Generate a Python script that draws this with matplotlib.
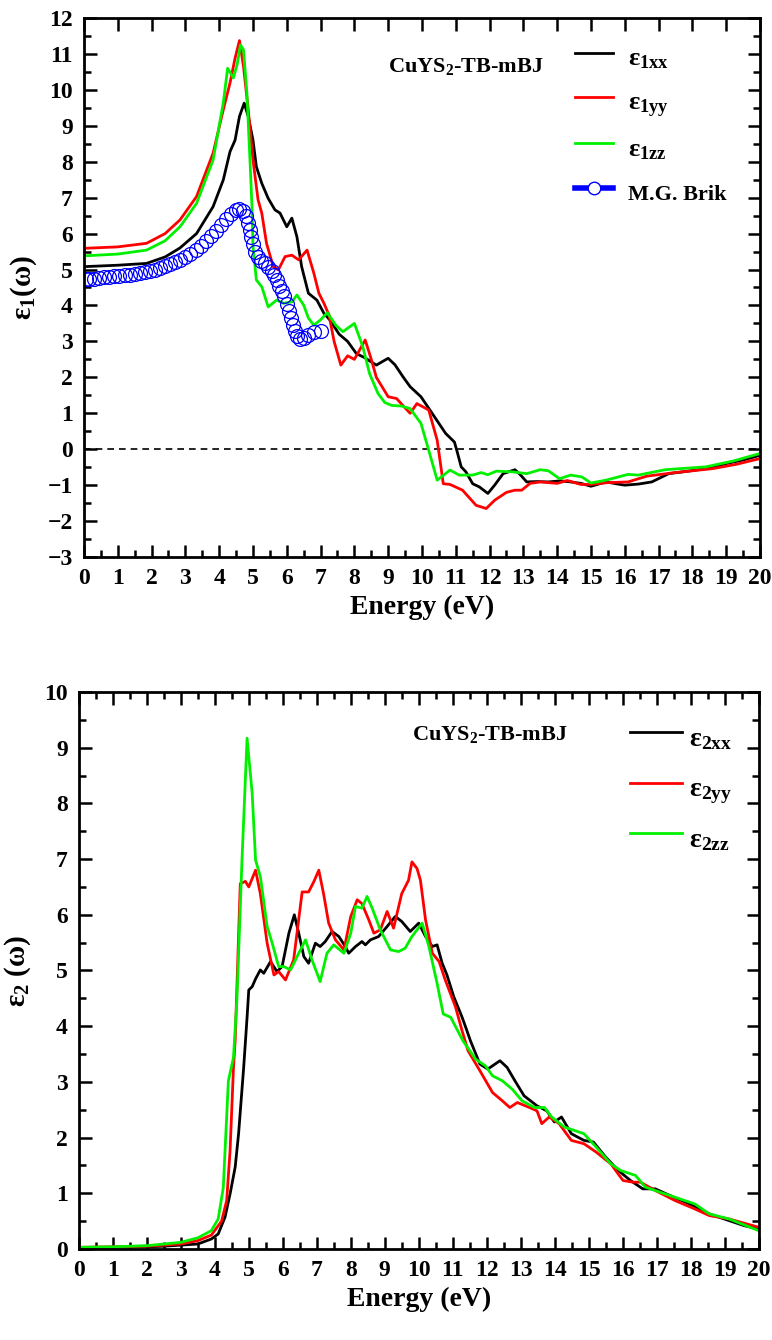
import matplotlib
matplotlib.use('Agg')
from matplotlib import pyplot as plt
from matplotlib.lines import Line2D
from matplotlib.ticker import MultipleLocator

plt.rcParams['font.family'] = 'Liberation Serif'
plt.rcParams['font.weight'] = 'bold'
plt.rcParams['mathtext.fontset'] = 'custom'
plt.rcParams['mathtext.rm'] = 'Liberation Serif:bold'
plt.rcParams['mathtext.it'] = 'Liberation Serif:bold'
plt.rcParams['mathtext.bf'] = 'Liberation Serif:bold'
plt.rcParams['mathtext.default'] = 'rm'

# ---- epsilon 1 (real part) ----
e1xx_E = [0, 1.0, 1.85, 2.4, 2.84, 3.33, 3.82, 4.12, 4.32, 4.47, 4.6, 4.74, 4.86, 5.0, 5.1, 5.26,
          5.45, 5.65, 5.8, 6.0, 6.15, 6.3, 6.44, 6.64, 6.89, 7.1, 7.27, 7.55, 7.8, 8.06, 8.3, 8.65,
          8.85, 9.0, 9.2, 9.45, 9.65, 9.97, 10.3, 10.7, 10.96, 11.05, 11.16, 11.3, 11.5, 11.7, 11.95,
          12.15, 12.4, 12.75, 12.9, 13.1, 13.4, 13.74, 14.1, 14.4, 14.7, 15.0, 15.45, 15.8, 16.0,
          16.4, 16.8, 17.3, 17.8, 18.4, 19.0, 19.5, 20.0]
e1xx = [5.08, 5.12, 5.17, 5.35, 5.6, 6.0, 6.75, 7.49, 8.28, 8.6, 9.26, 9.63, 9.26, 8.6, 7.86, 7.4,
        6.98, 6.66, 6.57, 6.19, 6.43, 5.91, 5.08, 4.34, 4.15, 3.78, 3.6, 3.2, 3.0, 2.66, 2.55, 2.34,
        2.45, 2.53, 2.35, 2.0, 1.74, 1.46, 1.0, 0.44, 0.2, -0.1, -0.49, -0.63, -0.96, -1.05, -1.23,
        -1.0, -0.68, -0.57, -0.7, -0.91, -0.9, -0.91, -0.88, -0.91, -0.95, -1.03, -0.91, -0.97, -1.0,
        -0.97, -0.91, -0.68, -0.62, -0.54, -0.4, -0.3, -0.17]

e1yy_E = [0, 1.0, 1.85, 2.4, 2.84, 3.33, 3.82, 4.12, 4.32, 4.47, 4.6, 4.72, 4.86, 5.0, 5.15, 5.26,
          5.4, 5.6, 5.75, 5.95, 6.15, 6.35, 6.6, 6.8, 6.95, 7.1, 7.25, 7.4, 7.6, 7.8, 8.0, 8.32, 8.5,
          8.65, 9.0, 9.25, 9.45, 9.65, 9.85, 10.2, 10.45, 10.63, 10.83, 11.2, 11.6, 11.9, 12.15, 12.5,
          12.75, 12.95, 13.2, 13.5, 14.0, 14.3, 14.7, 15.0, 15.5, 16.1, 16.65, 17.4, 18.6, 19.3, 20.0]
e1yy = [5.59, 5.63, 5.73, 6.0, 6.38, 7.03, 8.24, 9.44, 10.19, 10.88, 11.37, 10.65, 9.44, 8.05, 6.94,
        6.57, 5.73, 5.08, 4.99, 5.36, 5.4, 5.27, 5.54, 4.9, 4.34, 4.06, 3.73, 3.0, 2.34, 2.6, 2.5,
        3.04, 2.5, 2.0, 1.46, 1.41, 1.2, 1.0, 1.27, 1.09, 0.25, -0.96, -0.98, -1.14, -1.56, -1.65,
        -1.42, -1.2, -1.14, -1.14, -0.95, -0.91, -0.95, -0.87, -0.98, -0.98, -0.93, -0.91, -0.75,
        -0.66, -0.54, -0.42, -0.26]

e1zz_E = [0, 1.0, 1.85, 2.4, 2.84, 3.33, 3.82, 4.12, 4.25, 4.42, 4.53, 4.63, 4.72, 4.82, 4.92, 4.97,
          5.0, 5.1, 5.26, 5.45, 5.7, 5.9, 6.15, 6.3, 6.5, 6.64, 6.8, 7.0, 7.2, 7.45, 7.66, 7.85, 8.0,
          8.25, 8.45, 8.7, 8.9, 9.1, 9.4, 9.65, 9.97, 10.2, 10.45, 10.6, 10.83, 11.1, 11.5, 11.75,
          11.95, 12.2, 12.68, 13.1, 13.5, 13.74, 14.07, 14.4, 14.73, 15.0, 15.45, 16.1, 16.4, 17.2,
          18.4, 19.2, 20.0]
e1zz = [5.38, 5.43, 5.54, 5.8, 6.19, 6.84, 8.05, 9.63, 10.6, 10.33, 10.7, 11.25, 11.11, 9.9, 7.86,
        6.75, 5.64, 4.71, 4.52, 3.96, 4.15, 4.06, 4.1, 4.29, 4.01, 3.65, 3.45, 3.6, 3.8, 3.45, 3.27,
        3.4, 3.5, 2.85, 2.1, 1.55, 1.3, 1.22, 1.2, 1.13, 0.72, -0.03, -0.86, -0.75, -0.58, -0.72,
        -0.72, -0.65, -0.71, -0.61, -0.63, -0.68, -0.57, -0.6, -0.82, -0.72, -0.77, -0.94, -0.86,
        -0.7, -0.72, -0.57, -0.49, -0.33, -0.12]

brik_E = [0.05, 0.15, 0.3, 0.45, 0.6, 0.75, 0.9, 1.05, 1.2, 1.35, 1.5, 1.65, 1.8, 1.95, 2.1, 2.25,
          2.4, 2.55, 2.7, 2.85, 3.0, 3.15, 3.3, 3.45, 3.6, 3.75, 3.9, 4.05, 4.2, 4.35, 4.5, 4.6, 4.7,
          4.78, 4.84, 4.9, 4.95, 5.0, 5.05, 5.15, 5.25, 5.35, 5.45, 5.55, 5.62, 5.7, 5.78, 5.85, 5.92,
          6.0, 6.06, 6.12, 6.18, 6.24, 6.3, 6.38, 6.5, 6.62, 6.8, 7.0]
brik = [4.75, 4.73, 4.75, 4.76, 4.78, 4.79, 4.81, 4.83, 4.84, 4.86, 4.88, 4.9, 4.93, 4.96, 5.0, 5.04,
        5.09, 5.14, 5.2, 5.27, 5.35, 5.44, 5.54, 5.66, 5.79, 5.93, 6.08, 6.24, 6.4, 6.55, 6.65, 6.68,
        6.62, 6.5, 6.3, 6.1, 5.9, 5.7, 5.5, 5.35, 5.25, 5.18, 5.08, 4.97, 4.85, 4.7, 4.55, 4.4, 4.25,
        4.05, 3.85, 3.65, 3.45, 3.28, 3.15, 3.08, 3.1, 3.18, 3.25, 3.28]

# ---- epsilon 2 (imaginary part) ----
e2xx_E = [0, 1.0, 2.0, 2.5, 3.0, 3.5, 3.9, 4.1, 4.3, 4.45, 4.6, 4.7, 4.85, 4.95, 5.0, 5.1, 5.2, 5.34,
          5.44, 5.64, 5.83, 5.98, 6.18, 6.34, 6.47, 6.62, 6.76, 6.96, 7.1, 7.25, 7.45, 7.65, 7.84,
          7.94, 8.14, 8.33, 8.43, 8.58, 8.82, 9.07, 9.31, 9.5, 9.75, 10.0, 10.2, 10.4, 10.54, 10.69,
          10.83, 11.03, 11.27, 11.4, 11.52, 11.8, 12.03, 12.39, 12.6, 12.83, 13.1, 13.48, 13.77,
          13.99, 14.2, 14.49, 14.86, 15.14, 15.5, 15.87, 16.23, 16.59, 16.96, 17.39, 17.97, 18.55,
          19.13, 19.57, 20.0]
e2xx = [0.02, 0.03, 0.04, 0.05, 0.07, 0.09, 0.18, 0.27, 0.57, 0.99, 1.47, 2.07, 3.26, 4.16, 4.65,
        4.71, 4.85, 5.01, 4.95, 5.16, 4.98, 5.07, 5.67, 6.0, 5.67, 5.25, 5.13, 5.49, 5.43, 5.52, 5.7,
        5.61, 5.43, 5.31, 5.43, 5.52, 5.46, 5.55, 5.61, 5.79, 5.97, 5.88, 5.7, 5.85, 5.61, 5.43,
        5.46, 5.13, 4.92, 4.53, 4.17, 3.95, 3.74, 3.32, 3.23, 3.38, 3.26, 3.02, 2.75, 2.57, 2.48,
        2.28, 2.37, 2.07, 1.95, 1.92, 1.65, 1.41, 1.23, 1.08, 1.08, 0.96, 0.81, 0.63, 0.51, 0.42,
        0.36]

e2yy_E = [0, 1.0, 2.0, 3.0, 3.5, 3.9, 4.2, 4.35, 4.45, 4.55, 4.6, 4.75, 4.9, 5.0, 5.2, 5.34, 5.54,
          5.74, 5.88, 6.08, 6.32, 6.57, 6.76, 6.91, 7.06, 7.2, 7.35, 7.55, 7.8, 8.0, 8.19, 8.33, 8.53,
          8.68, 8.87, 9.07, 9.26, 9.5, 9.7, 9.8, 9.95, 10.05, 10.2, 10.4, 10.6, 10.78, 11.08, 11.27,
          11.45, 11.8, 12.17, 12.46, 12.68, 12.9, 13.26, 13.48, 13.62, 13.84, 14.13, 14.49, 14.86,
          15.22, 15.65, 16.01, 16.3, 16.52, 16.96, 17.54, 18.12, 18.55, 19.13, 20.0]
e2yy = [0.03, 0.04, 0.05, 0.09, 0.15, 0.25, 0.5, 0.87, 1.77, 3.26, 3.75, 6.56, 6.6, 6.5, 6.8, 6.38,
        5.49, 4.92, 4.98, 4.83, 5.19, 6.41, 6.41, 6.59, 6.8, 6.38, 5.85, 5.55, 5.37, 5.97, 6.27,
        6.2, 5.91, 5.67, 5.73, 6.06, 5.76, 6.38, 6.62, 6.95, 6.83, 6.62, 5.91, 5.31, 5.16, 4.83,
        4.35, 3.93, 3.56, 3.2, 2.81, 2.66, 2.54, 2.63, 2.54, 2.48, 2.25, 2.37, 2.25, 1.95, 1.89,
        1.74, 1.53, 1.23, 1.2, 1.2, 1.05, 0.87, 0.72, 0.6, 0.54, 0.39]

e2zz_E = [0, 1.0, 2.0, 3.0, 3.5, 3.9, 4.1, 4.25, 4.4, 4.55, 4.65, 4.8, 4.95, 5.1, 5.2, 5.34, 5.54,
          5.69, 5.88, 6.03, 6.23, 6.47, 6.67, 6.86, 7.1, 7.3, 7.5, 7.8, 8.0, 8.14, 8.33, 8.48, 8.63,
          8.87, 9.17, 9.41, 9.6, 9.8, 10.1, 10.3, 10.54, 10.72, 10.94, 11.3, 11.67, 11.96, 12.17,
          12.46, 12.75, 13.04, 13.41, 13.7, 13.91, 14.28, 14.57, 14.86, 15.22, 15.65, 15.94, 16.38,
          16.67, 17.1, 17.68, 18.12, 18.55, 19.13, 20.0]
e2zz = [0.03, 0.04, 0.06, 0.12, 0.2, 0.33, 0.54, 1.1, 3.02, 3.44, 4.46, 6.98, 9.17, 8.18, 6.98,
        6.69, 5.79, 5.49, 5.07, 5.07, 5.01, 5.31, 5.55, 5.19, 4.8, 5.31, 5.46, 5.31, 5.67, 6.15,
        6.12, 6.33, 6.12, 5.73, 5.37, 5.34, 5.4, 5.61, 5.85, 5.43, 4.77, 4.22, 4.16, 3.74, 3.41,
        3.29, 3.11, 3.02, 2.87, 2.66, 2.54, 2.54, 2.37, 2.19, 2.13, 2.07, 1.83, 1.53, 1.41, 1.32,
        1.11, 1.02, 0.9, 0.81, 0.63, 0.54, 0.33]

BLACK, RED, GREEN, BLUE = '#000000', '#ff0000', '#00f000', '#0000ff'
LW = 2.0

fig = plt.figure(figsize=(7.72, 13.4), dpi=100)
ax1 = fig.add_axes([0.1088, 0.5843, 0.8756, 0.4023])
ax2 = fig.add_axes([0.1021, 0.0679, 0.8806, 0.4157])


def style(ax, ymin, ymax):
    ax.set_xlim(0, 20)
    ax.set_ylim(ymin, ymax)
    ax.xaxis.set_major_locator(MultipleLocator(1))
    ax.xaxis.set_minor_locator(MultipleLocator(0.5))
    ax.yaxis.set_major_locator(MultipleLocator(1))
    ax.yaxis.set_minor_locator(MultipleLocator(0.5))
    ax.tick_params(which='both', direction='in', top=True, right=True, width=1.8)
    ax.tick_params(which='major', length=9, labelsize=17, pad=8)
    ax.tick_params(which='minor', length=5)
    for s in ax.spines.values():
        s.set_linewidth(2.0)
    ax.set_xlabel('Energy (eV)', fontsize=20, fontweight='bold', labelpad=4)


# top panel
ax1.axhline(0, color='black', ls='--', lw=1.2, dashes=(4, 3))
ax1.plot(e1xx_E, e1xx, color=BLACK, lw=LW, label='ε$_{1xx}$')
ax1.plot(e1yy_E, e1yy, color=RED, lw=LW, label='ε$_{1yy}$')
ax1.plot(e1zz_E, e1zz, color=GREEN, lw=LW, label='ε$_{1zz}$')
ax1.plot(brik_E, brik, ls='none', marker='o', ms=10, mfc='none', mec=BLUE, mew=0.9)
style(ax1, -3, 12)
ax1.tick_params(which='minor', top=False)
ax1.set_ylabel('ε$_1$(ω)', fontsize=21, fontweight='bold', labelpad=6)
ax1.text(9.0, 10.64, 'CuYS$_2$-TB-mBJ', fontsize=16, fontweight='bold', va='center')
h, l = ax1.get_legend_handles_labels()
h.append(Line2D([], [], color=BLUE, lw=4, marker='o', ms=9, mfc='white', mec=BLUE, mew=1))
l.append('M.G. Brik')
leg1 = ax1.legend(h, l, loc='upper left', bbox_to_anchor=(0.7107, 0.9785), frameon=False,
                  fontsize=19, handlelength=1.44, handleheight=1.6, handletextpad=0.57,
                  labelspacing=0.40, borderaxespad=0)
leg1.get_texts()[3].set_fontsize(16)

# bottom panel
ax2.plot(e2xx_E, e2xx, color=BLACK, lw=LW, label='ε$_{2xx}$')
ax2.plot(e2yy_E, e2yy, color=RED, lw=LW, label='ε$_{2yy}$')
ax2.plot(e2zz_E, e2zz, color=GREEN, lw=LW, label='ε$_{2zz}$')
style(ax2, 0, 10)
ax2.set_ylabel('ε$_2$ (ω)', fontsize=21, fontweight='bold', labelpad=8)
ax2.text(9.8, 9.23, 'CuYS$_2$-TB-mBJ', fontsize=16, fontweight='bold', va='center')
ax2.legend(loc='upper left', bbox_to_anchor=(0.794, 0.973), frameon=False,
           fontsize=20, handlelength=1.9, handleheight=1.7, handletextpad=0.25,
           labelspacing=0.47, borderaxespad=0)

fig.savefig('out.png', dpi=100)
